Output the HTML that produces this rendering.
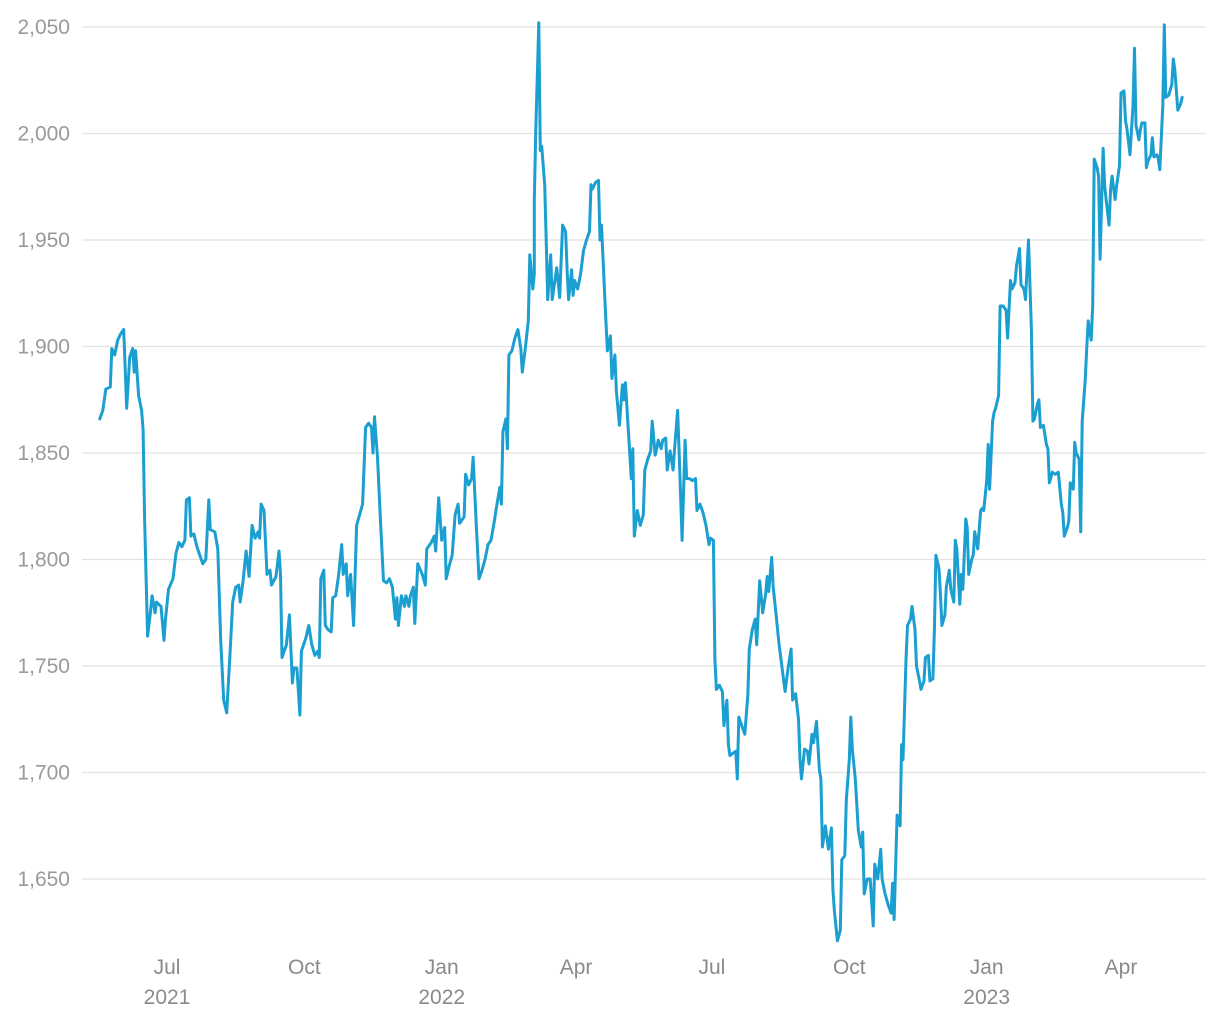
<!DOCTYPE html>
<html><head><meta charset="utf-8">
<style>
html,body{margin:0;padding:0;background:#fff;}
svg{display:block;font-family:"Liberation Sans",sans-serif;}
.tick{fill:#9a9a9a;font-size:21px;}
.xt{fill:#8a8a8a;font-size:21px;}
</style></head>
<body>
<svg id="chart" width="1220" height="1020" viewBox="0 0 1220 1020">
<g id="grid"></g>
<g id="yaxis"></g>
<g id="xaxis"></g>
<g id="series"></g>
</svg>
<script>
// days since 2021-07-01
const days = [-45,-43,-41,-38,-37,-35,-33,-31,-29,-27,-25,-23,-22,-21,-19,-17,-16,-15,-13,-11,-10,-8,-7,-4,-2,-1,1,4,6,8,10,12,13,15,16,18,20,22,24,26,28,29,32,34,36,38,40,42,44,46,48,49,51,53,55,57,59,61,62,63,65,67,69,70,73,75,76,77,80,82,84,85,87,89,90,93,95,97,99,101,102,103,105,106,108,110,111,113,115,117,118,120,121,123,125,127,131,133,135,137,138,139,141,143,145,147,149,151,153,154,155,157,159,160,162,163,165,166,168,171,173,174,177,179,180,182,184,186,187,189,191,193,195,196,199,200,202,204,205,207,209,211,213,215,217,219,221,223,224,225,227,228,229,231,233,235,237,238,240,242,243,245,246,246,247,249,250,251,253,254,255,257,258,259,261,263,264,265,267,268,269,271,272,273,275,277,279,281,283,284,285,287,289,290,291,293,294,295,297,298,300,301,303,305,306,307,309,311,312,313,315,317,319,320,322,324,325,327,328,329,331,332,334,335,337,339,340,342,343,345,347,348,350,352,354,355,357,359,361,363,364,366,367,368,370,372,373,375,376,377,379,381,382,383,385,387,389,390,392,394,395,397,399,401,402,403,405,406,408,410,412,414,416,418,419,421,423,424,425,427,429,430,432,433,435,437,438,439,441,443,445,446,447,449,451,452,454,455,457,458,459,461,462,463,465,466,467,469,471,473,474,476,478,479,481,483,485,486,487,489,491,492,493,495,496,498,499,501,502,504,505,507,508,510,511,513,514,515,517,518,519,521,522,524,525,527,528,529,531,532,533,535,536,537,539,540,541,543,545,546,547,549,550,551,553,554,555,557,558,560,562,563,565,566,568,569,571,572,574,575,577,579,580,581,583,584,585,587,589,590,591,593,595,597,599,600,601,603,604,605,607,608,609,611,612,613,615,616,617,619,620,621,623,624,625,627,628,629,631,632,633,635,636,638,639,641,642,643,645,647,648,649,651,652,653,655,656,657,659,660,661,663,664,665,667,668,669,671,673,674,675,677,679,680];
const prices = [1866,1870,1880,1881,1899,1896,1903,1906,1908,1871,1895,1899,1888,1898,1877,1870,1861,1819,1764,1776,1783,1775,1780,1778,1762,1772,1786,1791,1803,1808,1806,1809,1828,1829,1811,1812,1806,1802,1798,1800,1828,1814,1813,1805,1762,1734,1728,1753,1780,1787,1788,1780,1790,1804,1792,1816,1810,1813,1810,1826,1823,1793,1795,1788,1792,1804,1793,1754,1760,1774,1742,1749,1749,1727,1757,1763,1769,1760,1755,1757,1754,1791,1795,1769,1767,1766,1782,1783,1793,1807,1793,1798,1783,1793,1769,1816,1826,1862,1864,1862,1850,1867,1848,1818,1790,1789,1791,1787,1772,1782,1769,1783,1778,1783,1778,1783,1787,1770,1798,1793,1788,1805,1808,1811,1804,1829,1809,1815,1791,1797,1802,1821,1826,1817,1820,1840,1835,1838,1848,1818,1791,1795,1800,1807,1809,1817,1826,1834,1826,1860,1866,1852,1896,1898,1904,1908,1899,1888,1899,1912,1943,1927,1934,1969,2002,2052,1992,1994,1976,1950,1922,1943,1922,1927,1937,1923,1941,1957,1954,1936,1922,1936,1924,1931,1927,1934,1945,1950,1954,1976,1974,1977,1978,1950,1957,1927,1912,1898,1905,1885,1896,1879,1863,1882,1875,1883,1861,1838,1852,1811,1823,1816,1821,1842,1847,1851,1865,1849,1852,1856,1852,1856,1857,1842,1851,1842,1852,1870,1851,1809,1856,1838,1838,1837,1838,1823,1826,1822,1816,1807,1810,1809,1753,1739,1741,1738,1722,1734,1713,1708,1709,1710,1697,1726,1722,1718,1736,1758,1767,1772,1760,1790,1775,1784,1792,1785,1801,1787,1774,1760,1749,1738,1749,1758,1734,1737,1725,1706,1697,1711,1710,1704,1718,1714,1724,1701,1697,1665,1675,1664,1674,1645,1635,1621,1626,1659,1661,1687,1706,1726,1711,1697,1685,1673,1665,1672,1643,1650,1650,1628,1657,1650,1664,1650,1643,1638,1634,1648,1631,1680,1675,1713,1706,1753,1769,1772,1778,1767,1750,1743,1739,1743,1754,1755,1743,1744,1767,1802,1796,1784,1769,1774,1787,1795,1786,1780,1809,1805,1779,1793,1786,1819,1815,1793,1800,1802,1813,1805,1823,1824,1823,1837,1854,1833,1865,1869,1871,1877,1919,1919,1917,1904,1931,1927,1930,1938,1946,1929,1927,1922,1950,1908,1865,1866,1873,1875,1862,1863,1854,1852,1836,1841,1840,1841,1826,1822,1811,1815,1818,1836,1833,1855,1850,1847,1813,1865,1884,1899,1912,1903,1919,1988,1984,1980,1941,1993,1976,1969,1957,1974,1980,1969,1975,1985,2019,2020,2006,2002,1990,2013,2040,2004,1997,2002,2005,2005,1984,1987,1990,1998,1989,1990,1988,1983,2013,2051,2017,2018,2023,2035,2030,2011,2014,2017];
const yTicks = [1650,1700,1750,1800,1850,1900,1950,2000,2050];
const xTickDays = [0,92,184,274,365,457,549,639];
const xTickMonths = ["Jul","Oct","Jan","Apr","Jul","Oct","Jan","Apr"];
const xTickYears = ["2021","","2022","","","","2023",""];

const NS="http://www.w3.org/2000/svg";
function xs(d){return 167+1.493*d;}
function ys(v){return 879-(v-1650)*2.13;}
function mk(t,a,p){const e=document.createElementNS(NS,t);for(const k in a)e.setAttribute(k,a[k]);p.appendChild(e);return e;}
const grid=document.getElementById('grid'),ya=document.getElementById('yaxis'),xa=document.getElementById('xaxis'),ser=document.getElementById('series');
yTicks.forEach(v=>{
  const l=mk('line',{x1:82,x2:1206,y1:ys(v),y2:ys(v),stroke:'#e2e2e2','stroke-width':1.3},grid);
  
  
  const t=mk('text',{x:70,y:ys(v)+7,'text-anchor':'end',class:'tick'},ya);
  
  
  t.textContent=v.toLocaleString('en-US');
});
xTickDays.forEach((d,i)=>{
  const t=mk('text',{x:xs(d),y:974,'text-anchor':'middle',class:'xt'},xa);
  
  
  t.textContent=xTickMonths[i];
  if(xTickYears[i]){
    const y=mk('text',{x:xs(d),y:1004,'text-anchor':'middle',class:'xt'},xa);
    
    
    y.textContent=xTickYears[i];
  }
});
const pts=days.map((d,i)=>xs(d).toFixed(1)+','+ys(prices[i]).toFixed(1)).join(' ');
const pl=mk('polyline',{points:pts,fill:'none',stroke:'#1b9fd0','stroke-width':3,'stroke-linejoin':'round','stroke-linecap':'round'},ser);


</script>
</body></html>
